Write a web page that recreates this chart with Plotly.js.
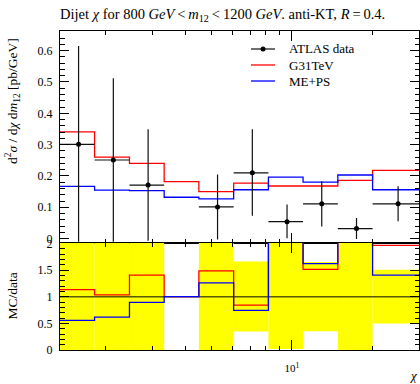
<!DOCTYPE html>
<html><head><meta charset="utf-8">
<script src="https://cdn.plot.ly/plotly-3.0.1.min.js"></script>
<style>html,body{margin:0;padding:0;background:#fff;} #chart{width:420px;height:384px;}</style>
</head><body><div id="chart"></div>
<script>
// ---- data ----
const binEdges   = [1.35, 1.82, 2.46, 3.32, 4.48, 6.05, 8.17, 11.02, 14.88, 20.09, 30];
const dataY      = [0.301, 0.251, 0.171, null, 0.101, 0.210, 0.054, 0.111, 0.032, 0.111];
const dataErrUp  = [0.314, 0.261, 0.178, null, 0.104, 0.139, 0.055, 0.072, 0.034, 0.056];
const dataErrDn  = [0.311, 0.261, 0.178, null, 0.104, 0.137, 0.053, 0.072, 0.033, 0.056];
const g31TeV     = [0.341, 0.260, 0.240, 0.182, 0.150, 0.177, 0.168, 0.168, 0.186, 0.218];
const mePS       = [0.167, 0.155, 0.153, 0.132, 0.127, 0.156, 0.196, 0.180, 0.203, 0.156];
const xTickVals  = [10];
const xTickText  = ['10<sup>1</sup>'];
const xMinorVals = [2, 3, 4, 5, 6, 7, 8, 9, 20];
const seriesNames = ['ATLAS data', 'G31TeV', 'ME+PS'];

// ---- derived ----
const nb = dataY.length;
const centers = [], exLo = [], exHi = [];
for (let i = 0; i < nb; i++) {
  const c = (binEdges[i] + binEdges[i + 1]) / 2;
  centers.push(c); exLo.push(c - binEdges[i]); exHi.push(binEdges[i + 1] - c);
}
const stepY = arr => arr.concat([arr[arr.length - 1]]);
const ratio = arr => arr.map((v, i) => dataY[i] ? v / dataY[i] : 1);

const FONT = 'Liberation Serif, DejaVu Serif, serif';
const RED = '#ff0000', BLUE = '#0000ff', YEL = '#ffff00';

const traces = [];
// ratio band
for (let i = 0; i < nb; i++) {
  if (dataY[i] == null) continue;
  const lo = 1 - dataErrDn[i] / dataY[i], hi = 1 + dataErrUp[i] / dataY[i];
  const x0 = binEdges[i], x1 = binEdges[i + 1];
  traces.push({x: [x0, x1, x1, x0, x0], y: [lo, lo, hi, hi, lo], xaxis: 'x2', yaxis: 'y2',
    mode: 'lines', fill: 'toself', fillcolor: YEL, line: {width: 0, color: YEL},
    hoverinfo: 'skip', showlegend: false});
}
traces.push({x: [binEdges[0], binEdges[nb]], y: [1, 1], xaxis: 'x2', yaxis: 'y2', mode: 'lines',
  line: {color: 'rgba(0,0,0,0.65)', width: 1.6}, hoverinfo: 'skip', showlegend: false});
traces.push({x: binEdges, y: stepY(ratio(g31TeV)), xaxis: 'x2', yaxis: 'y2', mode: 'lines',
  line: {shape: 'hv', color: RED, width: 1.3}, showlegend: false});
traces.push({x: binEdges, y: stepY(ratio(mePS)), xaxis: 'x2', yaxis: 'y2', mode: 'lines',
  line: {shape: 'hv', color: BLUE, width: 1.3}, showlegend: false});
// main panel
traces.push({x: binEdges, y: stepY(g31TeV), xaxis: 'x', yaxis: 'y', mode: 'lines', name: seriesNames[1],
  line: {shape: 'hv', color: RED, width: 1.3}, showlegend: false});
traces.push({x: binEdges, y: stepY(mePS), xaxis: 'x', yaxis: 'y', mode: 'lines', name: seriesNames[2],
  line: {shape: 'hv', color: BLUE, width: 1.3}, showlegend: false});
traces.push({x: centers, y: dataY, xaxis: 'x', yaxis: 'y', mode: 'markers', name: seriesNames[0],
  marker: {color: '#000', size: 5},
  error_y: {type: 'data', symmetric: false, array: dataErrUp, arrayminus: dataErrDn, width: 0, thickness: 1.2, color: '#111'},
  error_x: {type: 'data', symmetric: false, array: exHi, arrayminus: exLo, width: 0, thickness: 1.2, color: '#111'},
  showlegend: false});

// ---- layout ----
const L = 60, R = 1, T = 31, B = 34, W = 420 - L - R, H = 384 - T - B;
const px = v => (v - L) / W, py = v => (T + H - v) / H;
const split = py(242.7);
const xr = [Math.log10(binEdges[0]), Math.log10(binEdges[nb])];
const tickFont = {family: FONT, size: 12, color: '#000'};
const axBase = {showline: true, linecolor: '#000', linewidth: 1, mirror: 'allticks', ticks: 'inside',
  tickcolor: '#000', tickwidth: 1, showgrid: false, zeroline: false, tickfont: tickFont};
const xBase = Object.assign({}, axBase, {type: 'log', range: xr, tickmode: 'array', tickvals: xTickVals,
  ticktext: xTickText, ticklen: 10,
  minor: {tickmode: 'array', tickvals: xMinorVals, ticks: 'inside', ticklen: 4, tickcolor: '#000', tickwidth: 1, showgrid: false}});

const legY = [49, 65, 81], legColors = ['#222', RED, BLUE];
const shapes = [], annotations = [];
legY.forEach((yy, i) => {
  shapes.push({type: 'line', xref: 'paper', yref: 'paper', x0: px(251), x1: px(275), y0: py(yy), y1: py(yy),
    line: {color: legColors[i], width: 1.3}});
  annotations.push({text: seriesNames[i], xref: 'paper', yref: 'paper', x: px(287), y: py(yy),
    xanchor: 'left', yanchor: 'middle', showarrow: false, font: {family: FONT, size: 13, color: '#000'}});
});
shapes.push({type: 'circle', xref: 'paper', yref: 'paper', x0: px(260.5), x1: px(265.5), y0: py(51.5), y1: py(46.5),
  fillcolor: '#000', line: {width: 0}});

annotations.push({text: 'd<sup>2</sup><i>σ</i> / d<i>χ</i> d<i>m</i><sub>12</sub> [pb/GeV]', textangle: -90,
  xref: 'paper', yref: 'paper', x: px(12), y: py(36), xanchor: 'center', yanchor: 'top', showarrow: false,
  font: {family: FONT, size: 13.5, color: '#000'}});
annotations.push({text: 'MC/data', textangle: -90, xref: 'paper', yref: 'paper', x: px(12), y: py(296.5),
  xanchor: 'center', yanchor: 'middle', showarrow: false, font: {family: FONT, size: 13.5, color: '#000'}});
annotations.push({text: '<i>χ</i>', xref: 'paper', yref: 'paper', x: px(418), y: py(375),
  xanchor: 'right', yanchor: 'middle', showarrow: false, borderpad: 0, font: {family: FONT, size: 13, color: '#000'}});

const layout = {
  width: 420, height: 384, margin: {l: L, r: R, t: T, b: B, pad: 0},
  paper_bgcolor: '#fff', plot_bgcolor: 'rgba(0,0,0,0)', showlegend: false,
  title: {text: 'Dijet <i>χ</i> for 800 <i>GeV</i>&#8201;&lt;&#8201;<i>m</i><sub>12</sub>&#8201;&lt;&#8201;1200 <i>GeV</i>. anti-KT, <i>R</i>&#8201;=&#8201;0.4.',
    xref: 'container', yref: 'container', x: L / 420, xanchor: 'left', y: 1 - 14 / 384, yanchor: 'middle',
    font: {family: FONT, size: 14.5, color: '#000'}},
  xaxis: Object.assign({}, xBase, {anchor: 'y', domain: [0, 1], showticklabels: false}),
  xaxis2: Object.assign({}, xBase, {anchor: 'y2', domain: [0, 1], showticklabels: true, ticklabelstandoff: 8, tickfont: {family: FONT, size: 11, color: '#000'}}),
  yaxis: Object.assign({}, axBase, {anchor: 'x', domain: [split, 1], range: [-0.0131, 0.6628], tick0: 0, dtick: 0.1,
    ticklen: 9, ticklabelstandoff: 4, minor: {dtick: 0.02, tick0: 0, ticks: 'inside', ticklen: 4.5, tickcolor: '#000', showgrid: false}}),
  yaxis2: Object.assign({}, axBase, {anchor: 'x2', domain: [0, split], range: [0, 2.013], tick0: 0, dtick: 0.5,
    ticklen: 9, ticklabelstandoff: 4, minor: {dtick: 0.1, tick0: 0, ticks: 'inside', ticklen: 4.5, tickcolor: '#000', showgrid: false}}),
  shapes: shapes, annotations: annotations
};
Plotly.newPlot('chart', traces, layout, {displayModeBar: false, staticPlot: true});
</script></body></html>
